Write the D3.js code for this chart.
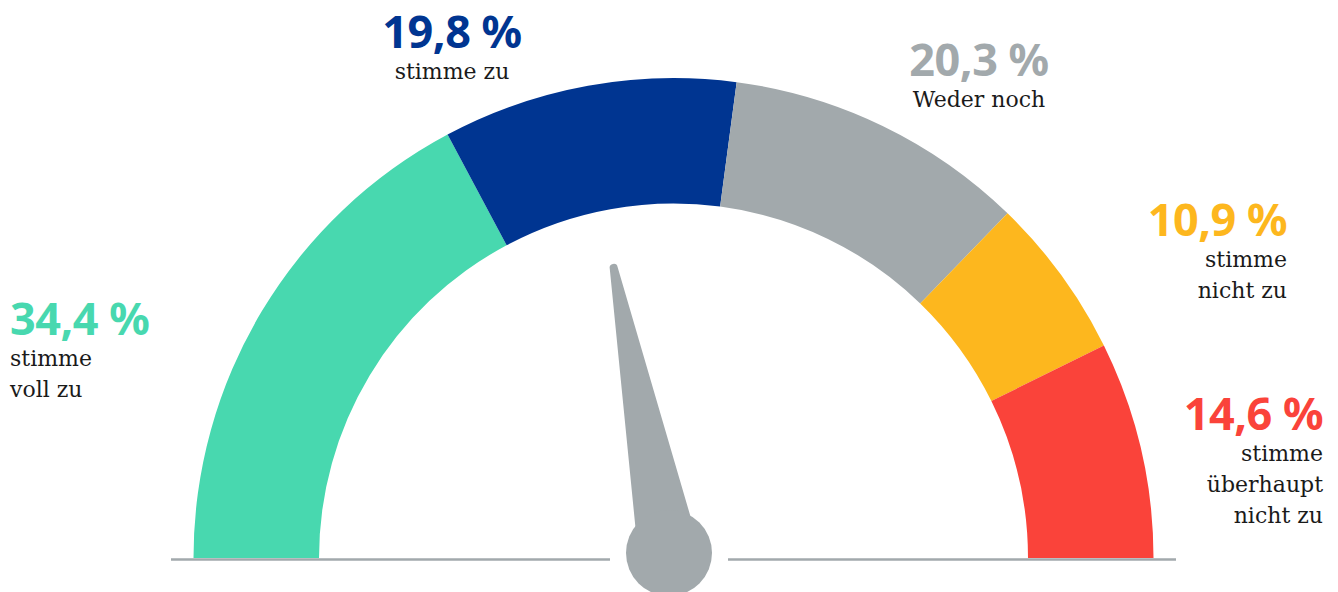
<!DOCTYPE html>
<html>
<head>
<meta charset="utf-8">
<script src="https://cdn.jsdelivr.net/npm/d3@7"></script>
<style>
  html, body { margin: 0; padding: 0; background: #fff; }
  svg { display: block; }
</style>
</head>
<body>
<div id="chart"></div>
<script>
// Gauge chart - answer shares
const categories = ['stimme voll zu', 'stimme zu', 'Weder noch', 'stimme nicht zu', 'stimme überhaupt nicht zu'];
const values = [34.4, 19.8, 20.3, 10.9, 14.6];
const valueLabels = ['34,4 %', '19,8 %', '20,3 %', '10,9 %', '14,6 %'];
const labelLines = [['stimme', 'voll zu'], ['stimme zu'], ['Weder noch'], ['stimme', 'nicht zu'], ['stimme', 'überhaupt', 'nicht zu']];
const colors = ['#48d8af', '#003591', '#a2a9ac', '#fdb71e', '#fa433a'];
const needleValue = 43.9; // position on the 0-100 scale

const width = 1338, height = 592;
const cx = 673.5, cy = 558;
const outerR = 480, innerR = 354.5;

const svg = d3.select('#chart').append('svg')
    .attr('width', width)
    .attr('height', height);

const g = svg.append('g').attr('transform', `translate(${cx},${cy})`);

const pie = d3.pie().sort(null).startAngle(-Math.PI / 2).endAngle(Math.PI / 2);
const arc = d3.arc().innerRadius(innerR).outerRadius(outerR);

g.selectAll('.seg')
    .data(pie(values))
    .enter()
    .append('path')
    .attr('class', 'seg')
    .attr('d', arc)
    .attr('fill', (d, i) => colors[i]);

// base line with gap around the hub
const hub = { x: -4.5, y: -5 };
const lineColor = '#a2a9ac';
[[-502.5, hub.x - 59], [hub.x + 59, 502.5]].forEach(([x1, x2]) => {
    g.append('line')
        .attr('x1', x1).attr('x2', x2)
        .attr('y1', 1.5).attr('y2', 1.5)
        .attr('stroke', lineColor)
        .attr('stroke-width', 2.5);
});

// needle
const angleScale = d3.scaleLinear().domain([0, 100]).range([-90, 90]);
const len = 290.5, baseHalf = 31, tipHalf = 4;
const needle = g.append('g')
    .attr('transform', `translate(${hub.x},${hub.y}) rotate(${angleScale(needleValue)})`);

needle.append('path')
    .attr('d', `M${-baseHalf},0 L${-tipHalf},${-len} A${tipHalf},${tipHalf} 0 0 1 ${tipHalf},${-len} L${baseHalf},0 Z`)
    .attr('fill', lineColor);

g.append('circle')
    .attr('cx', hub.x).attr('cy', hub.y)
    .attr('r', 43)
    .attr('fill', lineColor);

// labels
const labelPos = [
    { x: 10, y: 335, anchor: 'start' },
    { x: 452, y: 48, anchor: 'middle' },
    { x: 979, y: 76, anchor: 'middle' },
    { x: 1287, y: 236, anchor: 'end' },
    { x: 1323, y: 430, anchor: 'end' }
];

const labels = svg.selectAll('.lbl')
    .data(categories)
    .enter()
    .append('g')
    .attr('class', 'lbl');

labels.append('text')
    .attr('x', (d, i) => labelPos[i].x)
    .attr('y', (d, i) => labelPos[i].y)
    .attr('text-anchor', (d, i) => labelPos[i].anchor)
    .attr('font-family', '"Noto Sans", sans-serif')
    .attr('font-weight', 'bold')
    .attr('font-size', '45px')
    .attr('letter-spacing', '-0.5px')
    .attr('fill', (d, i) => colors[i])
    .text((d, i) => valueLabels[i]);

labels.each(function(d, i) {
    const t = d3.select(this).append('text')
        .attr('text-anchor', labelPos[i].anchor)
        .attr('font-family', '"DejaVu Serif", serif')
        .attr('font-size', '22px')
        .attr('fill', '#1a1a1a');
    labelLines[i].forEach((line, j) => {
        t.append('tspan')
            .attr('x', labelPos[i].x)
            .attr('y', labelPos[i].y + 31 + j * 31)
            .text(line);
    });
});
</script>
</body>
</html>
